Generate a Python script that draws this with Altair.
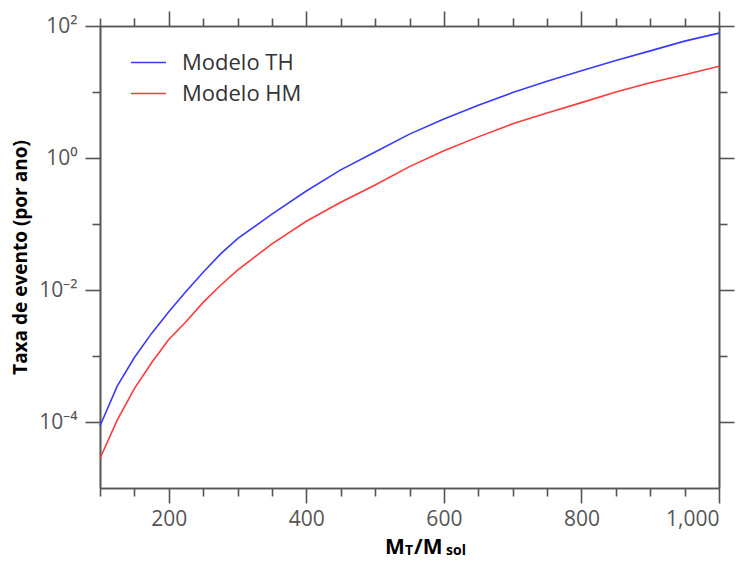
import altair as alt
import pandas as pd

# ---- data ----
mass = [100, 125, 150, 175, 200, 225, 250, 275, 300, 350, 400, 450, 500,
        550, 600, 650, 700, 750, 800, 850, 900, 950, 1000]
rate_th = [8.7e-5, 3.5e-4, 9.5e-4, 2.2e-3, 4.7e-3, 9.5e-3, 1.86e-2, 3.5e-2, 6.0e-2,
           0.141, 0.316, 0.66, 1.23, 2.3, 3.9, 6.3, 9.8, 14.5, 21, 30, 42, 59, 78]
rate_hm = [2.8e-5, 1.07e-4, 3.2e-4, 7.9e-4, 1.78e-3, 3.3e-3, 6.5e-3, 1.17e-2, 2.0e-2,
           5.0e-2, 0.11, 0.214, 0.39, 0.74, 1.29, 2.09, 3.3, 4.8, 6.9, 10, 13.8, 18.2, 24.5]
series_names = ["Modelo TH", "Modelo HM"]
series_colors = ["#3a3aff", "#ff3a3a"]

x_major = [200, 400, 600, 800, 1000]
x_minor = [100, 150, 250, 300, 350, 450, 500, 550, 650, 700, 750, 850, 900, 950]
y_major = [1e-4, 1e-2, 1, 100]
y_minor = [1e-3, 1e-1, 10]

df = pd.DataFrame({
    "mass": mass + mass,
    "rate": rate_th + rate_hm,
    "model": [series_names[0]] * len(mass) + [series_names[1]] * len(mass),
})

FONT = "Open Sans"
AX = "#555555"
W, H = 619, 462

x_scale = alt.Scale(domain=[100, 1000], nice=False, zero=False)
y_scale = alt.Scale(type="log", domain=[1e-5, 100], nice=False)

common = dict(grid=False, domainColor=AX, domainWidth=1.6, tickColor=AX,
              tickWidth=1.6, labelFont=FONT, titleFont=FONT)

label_expr = ("datum.value >= 50 ? '10²' : datum.value >= 0.5 ? '10⁰' : "
              "datum.value >= 0.005 ? '10⁻²' : '10⁻⁴'")

base = alt.Chart(df)

lines = base.mark_line(strokeWidth=1.6).encode(
    x=alt.X("mass:Q", scale=x_scale,
            axis=alt.Axis(orient="bottom", values=x_major, tickSize=15, format=",d",
                          labelFontSize=21, labelColor=AX, labelPadding=5,
                          title=None, **common)),
    y=alt.Y("rate:Q", scale=y_scale,
            axis=alt.Axis(orient="left", values=y_major, tickSize=15, labelExpr=label_expr,
                          labelFontSize=21, labelColor=AX, labelPadding=8,
                          title="Taxa de evento (por ano)", titleFontSize=19,
                          titleFontWeight="bold", titleColor="black", titlePadding=8,
                          **common)),
    color=alt.Color("model:N", sort=series_names,
                    scale=alt.Scale(domain=series_names, range=series_colors),
                    legend=alt.Legend(orient="none", legendX=30, legendY=18, title=None,
                                      symbolType="stroke", symbolSize=1225,
                                      symbolStrokeWidth=1.6, labelFont=FONT,
                                      labelFontSize=22, labelColor="#333333",
                                      labelOffset=15, rowPadding=1, padding=0)),
)


def axis_layer(xaxis, yaxis):
    return base.mark_line(opacity=0).encode(
        x=alt.X("mass:Q", scale=x_scale, axis=xaxis),
        y=alt.Y("rate:Q", scale=y_scale, axis=yaxis),
    )


def ax(orient, values, size):
    return alt.Axis(orient=orient, values=values, tickSize=size, labels=False,
                    title=None, **common)


layers = [
    lines,
    axis_layer(ax("bottom", x_minor, 8), ax("left", y_minor, 8)),
    axis_layer(ax("top", x_major, 15), ax("right", y_major, 15)),
    axis_layer(ax("top", x_minor, 8), ax("right", y_minor, 8)),
]

one = pd.DataFrame({"v": [0]})


def txt(s, x, y, size):
    return alt.Chart(one).mark_text(text=s, font=FONT, fontWeight="bold", fontSize=size,
                                    color="black", align="left", baseline="alphabetic").encode(
        x=alt.value(x), y=alt.value(y))


# x-axis title  M_T / M_sol  (subscripts as smaller text)
xtitle = [
    txt("M", 285, 528, 21),
    txt("T", 305, 529, 14),
    txt("/M", 314, 528, 21),
    txt("sol", 346, 529, 14),
]

chart = alt.layer(*layers, *xtitle).resolve_axis(x="independent", y="independent").properties(
    width=W, height=H,
    autosize=alt.AutoSizeParams(type="none"),
    padding={"left": 100, "top": 26, "right": 750 - 100 - W, "bottom": 561 - 26 - H},
).configure_view(stroke=None)

chart.save("out.html", embed_options={"renderer": "svg", "actions": False})
